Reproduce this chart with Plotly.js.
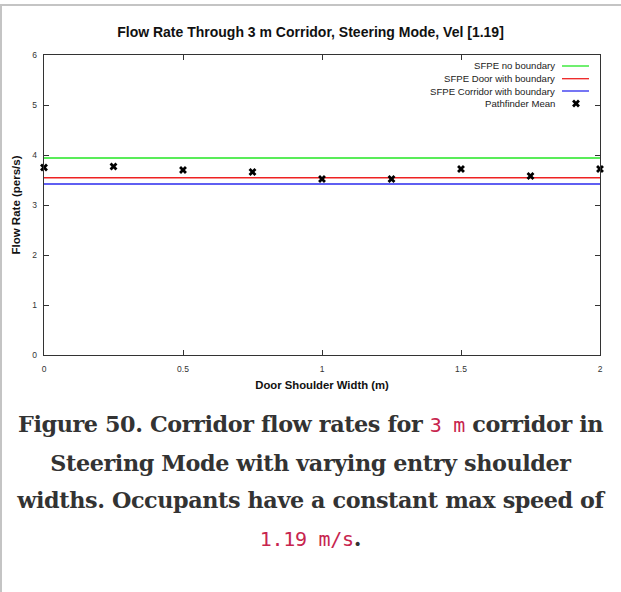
<!DOCTYPE html>
<html>
<head>
<meta charset="utf-8">
<script src="https://cdn.plot.ly/plotly-3.0.1.min.js"></script>
<style>
  html, body { margin: 0; padding: 0; background: #ffffff; }
  body { width: 621px; height: 592px; position: relative; overflow: hidden; }
  #chart { position: absolute; left: 0; top: 0; width: 621px; height: 400px; }
  .bt { position: absolute; left: 0; top: 4px; width: 621px; height: 2px; background: #c4c4c4; z-index: 5; }
  .bl { position: absolute; left: 0; top: 4px; width: 2px; height: 588px; background: #c4c4c4; z-index: 5; }
  #caption { position: absolute; left: 0; top: 406px; width: 621px; text-align: center;
    font-family: "DejaVu Serif", serif; font-weight: bold; font-size: 22.3px; line-height: 37.5px; color: #333333; letter-spacing: -0.4px; }
  #caption code { font-family: "DejaVu Sans Mono", monospace; font-weight: normal; color: #c7254e; font-size: 20px; letter-spacing: -0.3px; }
</style>
</head>
<body>
<div class="bt"></div><div class="bl"></div>
<div id="chart"></div>
<div id="caption">Figure 50. Corridor flow rates for <code>3 m</code> corridor in<br>Steering Mode with varying entry shoulder<br>widths. Occupants have a constant max speed of<br><code>1.19 m/s</code>.</div>
<script>
// ---- data ----
const xEnds = [0, 2];
const sfpeNoBoundary = [3.94, 3.94];
const sfpeDoorBoundary = [3.545, 3.545];
const sfpeCorridorBoundary = [3.42, 3.42];
const shoulderWidth = [0, 0.25, 0.5, 0.75, 1.0, 1.25, 1.5, 1.75, 2.0];
const pathfinderMean = [3.75, 3.77, 3.70, 3.66, 3.52, 3.52, 3.72, 3.58, 3.72];
const seriesNames = ["SFPE no boundary", "SFPE Door with boundary", "SFPE Corridor with boundary", "Pathfinder Mean"];
const seriesColors = ["#22e622", "#ee2222", "#2a2aee", "#000000"];
const xTicks = [0, 0.5, 1, 1.5, 2];
const xTickText = ["0", "0.5", "1", "1.5", "2"];
const yTicks = [0, 1, 2, 3, 4, 5, 6];

const W = 621, H = 400, ML = 44, MR = 21, MT = 55, MB = 45;
const pw = W - ML - MR, ph = H - MT - MB;
const px = p => (p - ML) / pw;
const py = p => (MT + ph - p) / ph;

const lineW = 1.3;
const traces = [
  {x: xEnds, y: sfpeNoBoundary, mode: 'lines', line: {color: seriesColors[0], width: lineW}, name: seriesNames[0]},
  {x: xEnds, y: sfpeDoorBoundary, mode: 'lines', line: {color: seriesColors[1], width: lineW}, name: seriesNames[1]},
  {x: xEnds, y: sfpeCorridorBoundary, mode: 'lines', line: {color: seriesColors[2], width: lineW}, name: seriesNames[2]},
  {x: shoulderWidth, y: pathfinderMean, mode: 'markers', name: seriesNames[3], cliponaxis: false,
   marker: {symbol: 'x', size: 7, color: seriesColors[3]}},
];

// manual legend (text left, sample right, like gnuplot)
const legRows = [66, 78.7, 91, 103.5];
const legTextX = 557, legL0 = 562, legL1 = 589, legM = 576;
const annotations = [];
const shapes = [];
seriesNames.forEach((nm, i) => {
  annotations.push({xref: 'paper', yref: 'paper', x: px(legTextX), y: py(legRows[i]), text: nm,
    showarrow: false, xanchor: 'right', yanchor: 'middle',
    font: {family: 'Liberation Sans, Arial, sans-serif', size: 9.6, color: '#222222'}});
  if (i < 3) {
    shapes.push({type: 'line', xref: 'paper', yref: 'paper', x0: px(legL0), x1: px(legL1),
      y0: py(legRows[i]), y1: py(legRows[i]), line: {color: seriesColors[i], width: lineW}});
  }
});
traces.push({x: [px(legM)], y: [py(legRows[3])], xaxis: 'x2', yaxis: 'y2', mode: 'markers', cliponaxis: false,
  marker: {symbol: 'x', size: 7, color: seriesColors[3]}, hoverinfo: 'skip'});

const tickFont = {family: 'Liberation Sans, Arial, sans-serif', size: 8.5, color: '#333333'};
const layout = {
  width: W, height: H,
  margin: {l: ML, r: MR, t: MT, b: MB, pad: 0},
  paper_bgcolor: 'rgba(0,0,0,0)', plot_bgcolor: '#ffffff',
  showlegend: false,
  title: {text: 'Flow Rate Through 3 m Corridor, Steering Mode, Vel [1.19]',
    font: {family: 'Liberation Sans, Arial, sans-serif', size: 14, weight: 'bold', color: '#111111'},
    xref: 'container', x: 0.5, xanchor: 'center', yref: 'container', y: 1 - 32 / H, yanchor: 'middle'},
  xaxis: {range: [0, 2], tickvals: xTicks, ticktext: xTickText, ticks: 'inside', ticklen: 5, tickwidth: 1,
    tickcolor: '#333333', showline: true, linecolor: '#333333', linewidth: 1.2, mirror: 'ticks',
    showgrid: false, zeroline: false, tickfont: tickFont, ticklabelstandoff: 6, automargin: false,
    title: {text: 'Door Shoulder Width (m)', standoff: 7,
      font: {family: 'Liberation Sans, Arial, sans-serif', size: 11.3, weight: 'bold', color: '#111111'}}},
  yaxis: {range: [0, 6], tickvals: yTicks, ticks: 'inside', ticklen: 5, tickwidth: 1,
    tickcolor: '#333333', showline: true, linecolor: '#333333', linewidth: 1.2, mirror: 'ticks',
    showgrid: false, zeroline: false, tickfont: tickFont, ticklabelstandoff: 4, automargin: false,
    title: {text: 'Flow Rate (pers/s)', standoff: 9,
      font: {family: 'Liberation Sans, Arial, sans-serif', size: 11.5, weight: 'bold', color: '#111111'}}},
  xaxis2: {overlaying: 'x', range: [0, 1], visible: false, fixedrange: true},
  yaxis2: {overlaying: 'y', range: [0, 1], visible: false, fixedrange: true},
  annotations: annotations,
  shapes: shapes,
};
Plotly.newPlot('chart', traces, layout, {staticPlot: true, displayModeBar: false});
</script>
</body>
</html>
